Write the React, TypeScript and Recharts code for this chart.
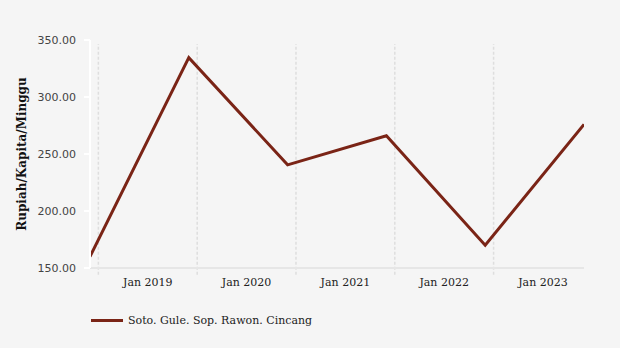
import React from "react";
import {
  LineChart,
  Line,
  XAxis,
  YAxis,
  ReferenceLine,
  Label,
} from "recharts";

// Observations are dated 1 December of each year (decimal years)
const years = [2018, 2019, 2020, 2021, 2022, 2023];
const values = [160.0, 334.5, 240.5, 266.0, 170.0, 276.0];
const gridYears = [2019, 2020, 2021, 2022, 2023];
const yTicks = [150, 200, 250, 300, 350];
const seriesName = "Soto. Gule. Sop. Rawon. Cincang";
const yTitle = "Rupiah/Kapita/Minggu";

const DEC1 = 334 / 365;
const data = years.map((y, i) => ({ t: y + DEC1, value: values[i] }));
const labelTicks = gridYears.map((y) => y + 0.5);

const LINE_COLOR = "#7a2416";
const SERIF = "'DejaVu Serif', serif";
const SANS = "'DejaVu Sans', sans-serif";

const YTitle = ({ viewBox }: any) => {
  const cx = 22;
  const cy = viewBox.y + viewBox.height / 2;
  return (
    <text
      transform={`translate(${cx},${cy}) rotate(-90)`}
      textAnchor="middle"
      dominantBaseline="central"
      fontFamily={SERIF}
      fontWeight="bold"
      fontSize={12}
      fill="#111"
    >
      {yTitle}
    </text>
  );
};

export default function App() {
  return (
    <div
      style={{
        position: "absolute",
        left: 0,
        top: 0,
        width: 620,
        height: 348,
        background: "#f5f5f5",
      }}
    >
      <LineChart
        width={620}
        height={348}
        data={data}
        margin={{ top: 40, right: 36, bottom: 50, left: 0 }}
      >
        <XAxis
          dataKey="t"
          type="number"
          domain={[2018 + DEC1, 2023 + DEC1]}
          ticks={labelTicks}
          tickFormatter={(v) => `Jan ${Math.floor(v)}`}
          height={30}
          stroke="#e6e6e6"
          strokeWidth={2}
          tickLine={false}
          tickSize={0}
          tickMargin={10}
          tick={{ fill: "#222", fontSize: 11, fontFamily: SERIF }}
          allowDataOverflow
        />
        <YAxis
          type="number"
          domain={[150, 350]}
          ticks={yTicks}
          tickFormatter={(v) => v.toFixed(2)}
          width={90}
          stroke="#ffffff"
          strokeWidth={2}
          tickSize={6}
          tickMargin={8}
          tick={{ fill: "#444", fontSize: 11, fontFamily: SANS }}
        >
          <Label content={<YTitle />} />
        </YAxis>
        {gridYears.map((y) => (
          <ReferenceLine
            key={y}
            segment={[
              { x: y, y: 144 },
              { x: y, y: 346.5 },
            ]}
            ifOverflow="visible"
            stroke="#dedede"
            strokeWidth={1.5}
            strokeDasharray="3 2"
          />
        ))}
        <Line
          type="linear"
          dataKey="value"
          stroke={LINE_COLOR}
          strokeWidth={3}
          dot={false}
          activeDot={false}
          isAnimationActive={false}
        />
      </LineChart>
      <div
        style={{
          position: "absolute",
          left: 91,
          top: 314,
          display: "flex",
          alignItems: "center",
          fontFamily: SERIF,
          fontSize: 11,
          color: "#222",
        }}
      >
        <span
          style={{
            display: "inline-block",
            width: 32,
            height: 3,
            background: LINE_COLOR,
            marginRight: 5,
          }}
        />
        <span>{seriesName}</span>
      </div>
    </div>
  );
}
